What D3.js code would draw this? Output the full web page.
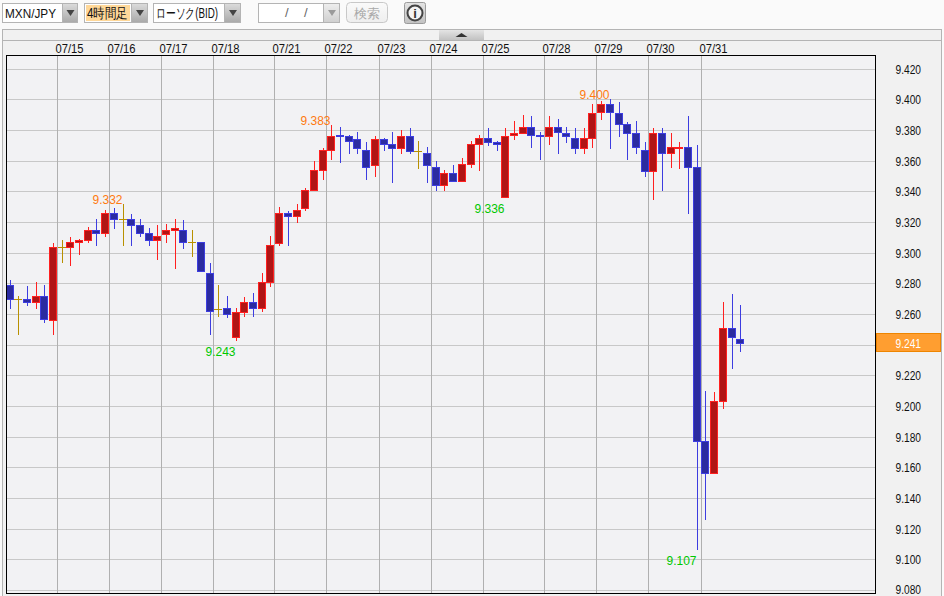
<!DOCTYPE html>
<html><head><meta charset="utf-8">
<script src="https://cdn.jsdelivr.net/npm/d3@7/dist/d3.min.js"></script>
<style>html,body{margin:0;padding:0;background:#fafafa;overflow:hidden}svg{display:block}
text{font-family:"Liberation Sans",sans-serif}</style></head><body><div id="c"></div>
<script>
const opens=[9.279,9.270,9.270,9.268,9.272,9.256,9.304,9.304,9.307,9.308,9.315,9.313,9.326,9.322,9.322,9.318,9.313,9.308,9.312,9.315,9.315,9.307,9.307,9.287,9.263,9.264,9.245,9.261,9.268,9.264,9.281,9.306,9.326,9.324,9.329,9.341,9.354,9.367,9.377,9.376,9.374,9.367,9.357,9.374,9.371,9.368,9.376,9.366,9.365,9.356,9.344,9.352,9.347,9.358,9.371,9.375,9.372,9.336,9.377,9.378,9.382,9.377,9.376,9.382,9.378,9.375,9.368,9.375,9.392,9.397,9.391,9.384,9.378,9.367,9.353,9.378,9.365,9.368,9.369,9.356,9.177,9.156,9.203,9.251,9.244];
const highs=[9.282,9.272,9.278,9.281,9.279,9.306,9.308,9.310,9.309,9.317,9.322,9.328,9.329,9.332,9.325,9.322,9.316,9.318,9.319,9.322,9.321,9.315,9.307,9.293,9.279,9.272,9.264,9.271,9.274,9.287,9.311,9.330,9.327,9.332,9.342,9.360,9.368,9.383,9.382,9.377,9.379,9.372,9.376,9.375,9.379,9.380,9.381,9.373,9.369,9.360,9.354,9.357,9.362,9.373,9.377,9.381,9.373,9.381,9.386,9.390,9.389,9.379,9.389,9.387,9.382,9.381,9.381,9.397,9.399,9.400,9.398,9.385,9.386,9.372,9.381,9.381,9.378,9.372,9.389,9.370,9.210,9.209,9.268,9.273,9.266];
const lows=[9.264,9.247,9.266,9.264,9.255,9.247,9.294,9.292,9.299,9.307,9.305,9.311,9.316,9.305,9.305,9.311,9.305,9.296,9.307,9.290,9.303,9.298,9.288,9.247,9.259,9.258,9.243,9.259,9.259,9.262,9.278,9.305,9.305,9.320,9.328,9.341,9.348,9.361,9.359,9.365,9.365,9.348,9.350,9.367,9.346,9.365,9.365,9.355,9.346,9.341,9.341,9.347,9.347,9.356,9.354,9.370,9.367,9.336,9.374,9.378,9.369,9.361,9.371,9.365,9.372,9.365,9.365,9.369,9.387,9.368,9.376,9.361,9.365,9.350,9.335,9.341,9.356,9.355,9.326,9.107,9.126,9.156,9.199,9.225,9.236];
const closes=[9.270,9.270,9.268,9.272,9.257,9.304,9.304,9.307,9.308,9.315,9.313,9.326,9.322,9.322,9.318,9.313,9.308,9.311,9.315,9.316,9.307,9.307,9.288,9.262,9.263,9.260,9.261,9.268,9.264,9.281,9.305,9.326,9.324,9.328,9.341,9.354,9.367,9.376,9.376,9.373,9.368,9.356,9.374,9.371,9.368,9.376,9.366,9.366,9.357,9.344,9.352,9.347,9.358,9.371,9.375,9.372,9.371,9.376,9.378,9.382,9.377,9.376,9.382,9.379,9.376,9.368,9.375,9.391,9.397,9.392,9.384,9.378,9.369,9.353,9.378,9.365,9.369,9.369,9.356,9.177,9.156,9.203,9.251,9.245,9.241];
const dayLabels=["07/15","07/16","07/17","07/18","07/21","07/22","07/23","07/24","07/25","07/28","07/29","07/30","07/31"];
const dayStarts=[6,12,18,24,31,37,43,49,55,62,68,74,80];
const priceTicks=[9.08,9.10,9.12,9.14,9.16,9.18,9.20,9.22,9.24,9.26,9.28,9.30,9.32,9.34,9.36,9.38,9.40,9.42];
const highMarks=[13,37,69];
const lowMarks=[26,57,79];
const lastPrice=9.241;
const selectLabels=["MXN/JPY","4時間足","ローソク(BID)"];

const W=944,H=596,plot={l:6,t:55,r:875,b:593};
const svg=d3.select("#c").append("svg").attr("width",W).attr("height",H);
const defs=svg.append("defs");
function grad(id,a,b){const g=defs.append("linearGradient").attr("id",id).attr("x1",0).attr("x2",0).attr("y1",0).attr("y2",1);
 g.append("stop").attr("offset",0).attr("stop-color",a);g.append("stop").attr("offset",1).attr("stop-color",b);}
grad("btn","#dcdcdc","#a9a9a9");grad("btnL","#eeeeee","#cfcfcf");grad("btnS","#fafafa","#eeeeee");grad("btnC","#e4e4e4","#c2c2c2");

const x=d3.scaleLinear().domain([0,84]).rangeRound([9.5,740.3]);
const y=d3.scaleLinear().domain([9.08,9.42]).rangeRound([590,68.67]);

// toolbar
const tb=svg.append("g");
function sel(x0,x1,bx,label,opts={}){
 tb.append("rect").attr("x",x0+.5).attr("y",3.5).attr("width",x1-x0-1).attr("height",19).attr("fill","#fff").attr("stroke","#b4b4b4");
 if(opts.hl) tb.append("rect").attr("x",x0+2).attr("y",5).attr("width",bx-x0-3).attr("height",16).attr("fill","#ffd899");
 tb.append("rect").attr("x",bx+.5).attr("y",3.5).attr("width",x1-bx-1).attr("height",19).attr("fill",`url(#${opts.light?"btnL":"btn"})`).attr("stroke","#b4b4b4");
 const cx=(bx+x1)/2+.5;
 tb.append("path").attr("d",`M${cx-4},10 h8 l-4,6 z`).attr("fill",opts.light?"#9a9a9a":"#444");
 if(label) tb.append("text").attr("x",opts.tx).attr("y",17.5).attr("font-size",opts.fs||13).attr("fill","#111")
   .attr("font-family",opts.cjk?'"Noto Sans CJK JP"':null).attr("font-weight",opts.bold?700:null)
   .attr("textLength",opts.len).attr("lengthAdjust","spacingAndGlyphs").text(label);
}
sel(2,78,62,selectLabels[0],{tx:5,len:51});
sel(84,148,131,selectLabels[1],{tx:87,len:41,cjk:1,hl:1,fs:14});
sel(153,241,224,selectLabels[2],{tx:156,len:62,cjk:1,fs:14});
sel(258,340,323,"",{light:1});
tb.append("text").attr("x",285).attr("y",17).attr("font-size",13).attr("fill","#666").text("/");
tb.append("text").attr("x",304).attr("y",17).attr("font-size",13).attr("fill","#666").text("/");
tb.append("rect").attr("x",346.5).attr("y",2.5).attr("width",41).attr("height",20).attr("rx",4).attr("fill","url(#btnS)").attr("stroke","#c8c8c8");
tb.append("text").attr("x",367).attr("y",17.5).attr("text-anchor","middle").attr("font-size",13).attr("font-family",'"Noto Sans CJK JP"').attr("fill","#a8a8a8").text("検索");
tb.append("rect").attr("x",404.5).attr("y",2.5).attr("width",21).attr("height",21).attr("rx",2).attr("fill","url(#btnC)").attr("stroke","#9a9a9a");
tb.append("circle").attr("cx",415).attr("cy",13).attr("r",7.5).attr("fill","#f4f4f4").attr("stroke","#444").attr("stroke-width",2);
tb.append("text").attr("x",415).attr("y",18).attr("text-anchor","middle").attr("font-size",13).attr("font-weight",700).attr("font-family",'"Liberation Serif"').attr("fill","#333").text("i");

// panel
svg.append("rect").attr("x",2.5).attr("y",29.5).attr("width",939).attr("height",570).attr("fill","#f1f1f1").attr("stroke","#b4b4b4");
svg.append("line").attr("x1",3).attr("x2",941).attr("y1",40.5).attr("y2",40.5).attr("stroke","#b4b4b4");
svg.append("rect").attr("x",439).attr("y",30).attr("width",45).attr("height",10).attr("fill","url(#btnC)");
svg.append("path").attr("d","M455.5,37 l6,-4 l6,4 z").attr("fill","#333");

// plot background
svg.append("rect").attr("x",plot.l).attr("y",plot.t).attr("width",plot.r-plot.l).attr("height",plot.b-plot.t).attr("fill","#f2f2f4");

// horizontal grid + price labels
const yGrid=d3.axisLeft(y).tickValues(priceTicks).tickSize(plot.r-plot.l-1).tickFormat("");
const gy=svg.append("g").attr("transform",`translate(${plot.r},0)`).call(yGrid);
gy.select(".domain").remove();gy.selectAll("line").attr("stroke","#c8c8c8").attr("shape-rendering","crispEdges");
const yAxis=d3.axisRight(y).tickValues(priceTicks.filter(t=>Math.abs(t-lastPrice)>.005)).tickSize(0).tickPadding(0).tickFormat(d3.format(".3f"));
const gya=svg.append("g").attr("transform","translate(895.5,0)").call(yAxis);
gya.select(".domain").remove();
gya.selectAll("text").attr("font-family",null).attr("font-size",12).attr("fill","#111").attr("dy",d=>d===9.08?3.2:4.2)
 .attr("textLength",25.5).attr("lengthAdjust","spacingAndGlyphs");
gya.attr("font-family",null).attr("font-size",null);

// vertical grid + date labels
const xAxis=d3.axisBottom(x).tickValues(dayStarts.map(i=>i-.57)).tickSize(plot.b-plot.t).tickFormat("");
const gx=svg.append("g").attr("transform",`translate(0,${plot.t})`).call(xAxis);
gx.select(".domain").remove();gx.selectAll("line").attr("stroke","#b0b0b0").attr("shape-rendering","crispEdges");
svg.append("g").selectAll("text").data(dayStarts).join("text")
 .attr("x",(d)=>x(d-.57)-1.5).attr("y",52.5).attr("font-size",12.5).attr("fill","#111")
 .attr("textLength",28).attr("lengthAdjust","spacingAndGlyphs").text((d,i)=>dayLabels[i]);

// candles
const RED="#ff2020",REDF="#b01515",BLUE="#3d3de0",BLUEF="#2b2ba0",GOLD="#b89000";
const idx=d3.range(opens.length);
const col=i=>closes[i]>opens[i]?RED:closes[i]<opens[i]?BLUE:GOLD;
const fil=i=>closes[i]>opens[i]?REDF:BLUEF;
const cg=svg.append("g").attr("shape-rendering","crispEdges");
cg.selectAll("line.w").data(idx).join("line").attr("class","w")
 .attr("x1",i=>x(i)+.5).attr("x2",i=>x(i)+.5).attr("y1",i=>y(highs[i])).attr("y2",i=>y(lows[i])+1).attr("stroke",col);
cg.selectAll("rect.b").data(idx.filter(i=>opens[i]!==closes[i])).join("rect").attr("class","b")
 .attr("x",i=>x(i)-3.5).attr("width",7)
 .attr("y",i=>y(Math.max(opens[i],closes[i]))+.5)
 .attr("height",i=>y(Math.min(opens[i],closes[i]))-y(Math.max(opens[i],closes[i])))
 .attr("fill",fil).attr("stroke",col);
cg.selectAll("line.d").data(idx.filter(i=>opens[i]===closes[i])).join("line").attr("class","d")
 .attr("x1",i=>x(i)-4).attr("x2",i=>x(i)+4).attr("y1",i=>y(opens[i])+.5).attr("y2",i=>y(opens[i])+.5).attr("stroke",GOLD);

// frame
svg.append("rect").attr("x",plot.l+.5).attr("y",plot.t+.5).attr("width",plot.r-plot.l).attr("height",plot.b-plot.t).attr("fill","none").attr("stroke","#000");

// high / low marks
const fmt=d3.format(".3f");
svg.append("g").selectAll("text").data(highMarks).join("text")
 .attr("x",i=>x(i)-.5).attr("y",i=>y(highs[i])).attr("text-anchor","end").attr("font-size",12).attr("fill","#ff7a10").text(i=>fmt(highs[i]));
svg.append("g").selectAll("text").data(lowMarks).join("text")
 .attr("x",i=>x(i)-.5).attr("y",i=>y(lows[i])+16).attr("text-anchor","end").attr("font-size",12).attr("fill","#00c800").text(i=>fmt(lows[i]));

// last price tag
svg.append("rect").attr("x",876.5).attr("y",y(lastPrice)-9.5).attr("width",64).attr("height",18).attr("fill","#ff9e30").attr("stroke","#ee8500");
svg.append("text").attr("x",895.5).attr("y",y(lastPrice)+4.5).attr("font-size",12).attr("fill","#fff")
 .attr("textLength",25.5).attr("lengthAdjust","spacingAndGlyphs").text(fmt(lastPrice));
</script></body></html>
